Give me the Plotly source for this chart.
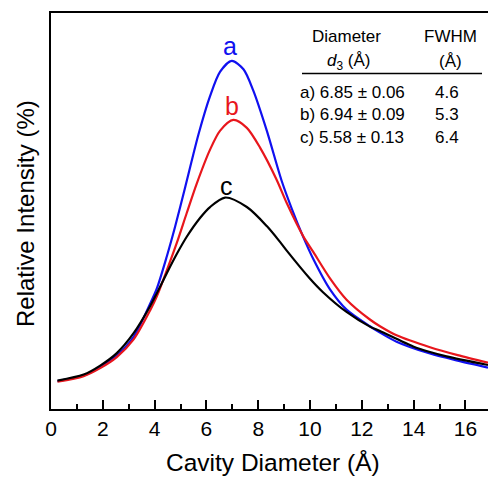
import plotly.graph_objects as go

# Cavity diameter (Å) and relative intensity
x_a = [0.25, 1.26, 1.9, 2.54, 3.19, 3.83, 4.09, 4.47, 4.79, 5.18, 5.7, 6.14, 6.53, 6.98, 7.43, 7.81,
       8.33, 8.9, 9.3, 9.74, 10.13, 10.77, 11.41, 12.31, 12.7, 13.34, 14.63, 15.7, 16.87]
y_a = [7.05, 8.44, 10.58, 13.48, 18.21, 26.62, 30.5, 38.5, 46.0, 56.0, 69.5, 79.0, 85.2, 87.9,
       85.8, 80.4, 70.3, 57.7, 50.5, 43.4, 37.8, 30.2, 25.1, 20.9, 19.3, 17.0, 14.0, 12.2, 10.45]

x_b = [0.25, 1.26, 1.9, 2.54, 3.19, 3.83, 4.09, 4.47, 4.86, 5.24, 5.63, 6.14, 6.53, 7.04, 7.56, 8.07,
       8.71, 9.1, 9.74, 10.13, 10.77, 11.41, 12.31, 12.7, 13.34, 14.63, 15.7, 16.87]
y_b = [6.93, 8.31, 10.33, 13.10, 17.56, 24.94, 28.5, 35.0, 42.0, 49.5, 57.0, 65.5, 70.3, 73.0,
       71.0, 66.0, 57.9, 52.0, 43.6, 39.6, 33.0, 27.6, 22.6, 20.9, 18.6, 15.6, 13.6, 11.7]

x_c = [0.25, 1.26, 1.9, 2.54, 3.19, 3.83, 4.09, 4.47, 4.86, 5.24, 5.76, 6.14, 6.72, 7.56, 8.33, 8.84,
       9.1, 10.0, 10.5, 11.41, 12.31, 12.7, 13.98, 14.63, 15.27, 16.87]
y_c = [7.18, 8.69, 10.96, 14.11, 19.14, 26.0, 29.3, 34.3, 39.2, 43.5, 48.3, 51.0, 53.4, 51.0,
       46.2, 42.2, 40.0, 32.9, 29.5, 24.5, 20.8, 19.7, 15.8, 14.4, 13.3, 11.1]

series_names = ["a", "b", "c"]
series_colors = ["#1010F0", "#E8161C", "#000000"]
label_x = [6.91, 6.98, 6.76]
label_y = [91.7, 76.6, 56.4]

table_header = ["Diameter", "<i>d</i><sub>3</sub> (Å)", "FWHM", "(Å)"]
table_rows = ["a) 6.85 ± 0.06", "b) 6.94 ± 0.09", "c) 5.58 ± 0.13"]
table_fwhm = ["4.6", "5.3", "6.4"]

x_ticks = list(range(0, 17, 2))

W, H = 488, 478
L, R, T, B = 51, 0, 13, 69
PW, PH = W - L - R, H - T - B


def px(xp):
    return (xp - L) / PW


def py(yp):
    return (H - B - yp) / PH


FONT = "Liberation Sans, Arial, sans-serif"

fig = go.Figure()
for xs, ys, name, col in zip([x_a, x_b, x_c], [y_a, y_b, y_c], series_names, series_colors):
    fig.add_trace(go.Scatter(x=xs, y=ys, mode="lines", name=name,
                             line=dict(color=col, width=2.2, shape="spline", smoothing=0.8),
                             showlegend=False, hoverinfo="skip"))

annotations = []
for name, col, lx, ly in zip(series_names, series_colors, label_x, label_y):
    annotations.append(dict(x=lx, y=ly, xref="x", yref="y", text=name, showarrow=False,
                            font=dict(family=FONT, size=25, color=col),
                            xanchor="center", yanchor="middle"))

TF = 17
annotations.append(dict(x=px(346), y=py(37), xref="paper", yref="paper", text=table_header[0],
                        showarrow=False, font=dict(family=FONT, size=TF, color="black"),
                        xanchor="center", yanchor="middle"))
annotations.append(dict(x=px(348), y=py(62), xref="paper", yref="paper", text=table_header[1],
                        showarrow=False, font=dict(family=FONT, size=TF, color="black"),
                        xanchor="center", yanchor="middle"))
annotations.append(dict(x=px(450), y=py(37), xref="paper", yref="paper", text=table_header[2],
                        showarrow=False, font=dict(family=FONT, size=TF, color="black"),
                        xanchor="center", yanchor="middle"))
annotations.append(dict(x=px(450), y=py(62), xref="paper", yref="paper", text=table_header[3],
                        showarrow=False, font=dict(family=FONT, size=TF, color="black"),
                        xanchor="center", yanchor="middle"))
for i, (r, f) in enumerate(zip(table_rows, table_fwhm)):
    yy = 92 + 22.5 * i
    annotations.append(dict(x=px(298), y=py(yy), xref="paper", yref="paper", text=r,
                            showarrow=False, font=dict(family=FONT, size=TF, color="black"),
                            xanchor="left", yanchor="middle"))
    annotations.append(dict(x=px(447), y=py(yy), xref="paper", yref="paper", text=f,
                            showarrow=False, font=dict(family=FONT, size=TF, color="black"),
                            xanchor="center", yanchor="middle"))

annotations.append(dict(x=px(273), y=py(463), xref="paper", yref="paper",
                        text="Cavity Diameter (Å)", showarrow=False,
                        font=dict(family=FONT, size=24.5, color="black"),
                        xanchor="center", yanchor="middle"))
annotations.append(dict(x=px(25), y=py(214), xref="paper", yref="paper",
                        text="Relative Intensity (%)", showarrow=False, textangle=-90,
                        font=dict(family=FONT, size=24, color="black"),
                        xanchor="center", yanchor="middle"))

fig.update_layout(
    width=W, height=H,
    margin=dict(l=L, r=R, t=T, b=B, pad=0),
    paper_bgcolor="white", plot_bgcolor="white",
    annotations=annotations,
    shapes=[dict(type="line", xref="paper", yref="paper", x0=px(302), x1=px(482),
                 y0=py(73.5), y1=py(73.5), line=dict(color="black", width=1.5))],
    xaxis=dict(range=[0, 16.87], showgrid=False, zeroline=False, showline=True, mirror=True,
               linecolor="black", linewidth=2, ticks="inside", ticklen=9, tickwidth=2,
               tickcolor="black", tickvals=x_ticks,
               tickfont=dict(family=FONT, size=21, color="black"),
               minor=dict(ticks="inside", ticklen=5, tickwidth=2, tickcolor="black", dtick=1,
                          tick0=1, showgrid=False)),
    yaxis=dict(range=[0, 100], showgrid=False, zeroline=False, showline=True, mirror=False,
               linecolor="black", linewidth=2, ticks="", showticklabels=False),
)

fig.write_html("out.html", config={"displayModeBar": False},
               post_script="document.body.style.margin='0';document.body.style.overflow='hidden';")
